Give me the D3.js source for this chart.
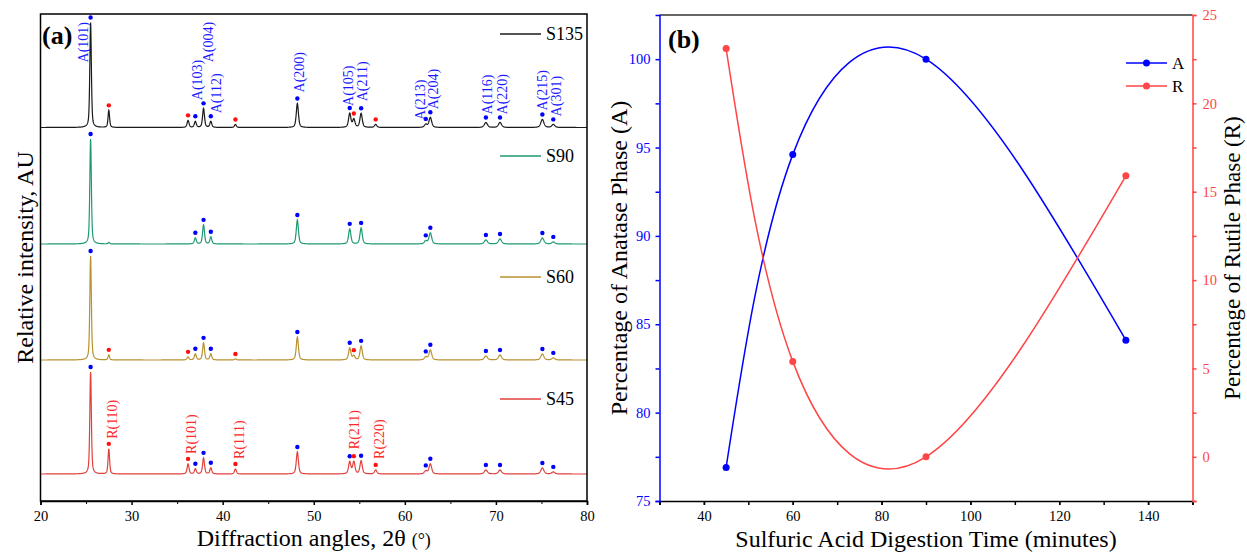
<!DOCTYPE html>
<html>
<head>
<meta charset="utf-8">
<script src="https://cdn.jsdelivr.net/npm/d3@7"></script>
<style>
  body { margin: 0; background: #fff; }
  text { font-family: "Liberation Serif", "Times New Roman", serif; }
</style>
</head>
<body>
<svg id="chart" width="1247" height="555"></svg>
<script>
// ---- data, panel (a): XRD peak list ----
const samples = ['S45', 'S60', 'S90', 'S135']
const baselines = [27, 141, 257, 373.5] // stacking offset, a.u.

const anatasePeaks = [25.5, 37.0, 37.9, 38.7, 48.2, 53.95, 55.2, 62.3, 62.8, 68.9, 70.45, 75.1, 76.3]
const anataseLabels = ['A(101)', 'A(103)', 'A(004)', 'A(112)', 'A(200)', 'A(105)', 'A(211)',
  'A(213)', 'A(204)', 'A(116)', 'A(220)', 'A(215)', 'A(301)']
const anataseWidths = [0.2, 0.25, 0.25, 0.25, 0.28, 0.3, 0.3, 0.35, 0.35, 0.4, 0.4, 0.4, 0.4]
const anataseHeights = [
  [102, 5, 16, 6, 22, 12, 13, 3, 10, 4, 4, 6, 2], // S45
  [104, 6, 17, 6, 23, 12, 14, 3, 10, 4, 5, 6, 2], // S60
  [105, 6, 19, 7, 24, 15, 16, 3, 11, 4, 5, 6, 2], // S90
  [105, 6, 19, 6, 24, 14, 14, 3, 10, 5, 5, 8, 3]  // S135
]

const rutilePeaks = [27.5, 36.2, 41.4, 54.4, 56.8]
const rutileLabels = ['R(110)', 'R(101)', 'R(111)', 'R(211)', 'R(220)']
const rutileWidths = [0.2, 0.25, 0.25, 0.3, 0.3]
const rutileHeights = [
  [25, 10, 5, 12, 4],
  [5, 3, 1, 4, 0],
  [1.5, 0, 0, 0, 0],
  [17, 7, 3, 8, 3]
]
const rutileMarked = [
  [1, 1, 1, 1, 1],
  [1, 1, 1, 1, 0],
  [0, 0, 0, 0, 0],
  [1, 1, 1, 1, 1]
]

// ---- data, panel (b) ----
const digestTime = [45, 60, 90, 135]
const anatasePct = [76.9, 94.6, 100.0, 84.1]
const rutilePct = [23.1, 5.4, 0.0, 15.9]

// ---- styles ----
const sampleColors = ['#e0403c', '#b8912f', '#1f9a6f', '#1a1a1a']
const blue = '#0000ff'
const red = '#ff4545'

const svg = d3.select('#chart')

// ================= panel (a) =================
const pa = { left: 40.5, right: 587, top: 14, bottom: 501 }
const xA = d3.scaleLinear().domain([20, 80]).range([pa.left, pa.right])
const yA = d3.scaleLinear().domain([0, 487]).range([pa.bottom, pa.top])

function profile(x, p, w) {
  const t = (x - p) / w
  return 0.5 / (1 + 4 * t * t) + 0.5 * Math.exp(-4 * Math.LN2 * t * t)
}

function intensity(i, x) {
  let s = baselines[i]
  anatasePeaks.forEach((p, k) => { s += anataseHeights[i][k] * profile(x, p, anataseWidths[k]) })
  rutilePeaks.forEach((p, k) => { s += rutileHeights[i][k] * profile(x, p, rutileWidths[k]) })
  return s
}

const grid = d3.range(20, 80.0001, 0.02)
const trace = d3.line()
  .x(d => xA(d[0]))
  .y(d => yA(d[1]))

samples.forEach((name, i) => {
  svg.append('path')
    .datum(grid.map(x => [x, intensity(i, x)]))
    .attr('d', trace)
    .attr('fill', 'none')
    .attr('stroke', sampleColors[i])
    .attr('stroke-width', 1.2)

  // peak markers
  anatasePeaks.forEach(p => {
    svg.append('circle')
      .attr('cx', xA(p))
      .attr('cy', yA(intensity(i, p)) - 5)
      .attr('r', 2.2)
      .attr('fill', blue)
  })
  rutilePeaks.forEach((p, k) => {
    if (!rutileMarked[i][k]) return
    svg.append('circle')
      .attr('cx', xA(p))
      .attr('cy', yA(intensity(i, p)) - 5)
      .attr('r', 2.2)
      .attr('fill', '#ff1010')
  })
})

// hkl labels: anatase on S135, rutile on S45  ([dx, gap])
const aNudge = [[-8, -45], [2, 16], [5, 41], [5, 3], [2, 6], [-2, 2], [1, 7], [-6, -1], [3, 3], [1, 3], [2, 3], [0, 4], [3, 3]]
const rNudge = [[3, 5], [3, 5], [4, 5], [0, 7], [3, 6]]

function hklLabel(text, p, sampleIdx, nudge, color) {
  const cx = xA(p) + nudge[0]
  const bottom = yA(intensity(sampleIdx, p)) - 5 - nudge[1]
  svg.append('text')
    .attr('transform', 'translate(' + cx + ',' + bottom + ') rotate(-90)')
    .attr('dy', '0.35em')
    .attr('font-size', 14)
    .attr('fill', color)
    .text(text)
}
anatasePeaks.forEach((p, k) => hklLabel(anataseLabels[k], p, 3, aNudge[k], '#1a1aff'))
rutilePeaks.forEach((p, k) => hklLabel(rutileLabels[k], p, 0, rNudge[k], '#ff2a2a'))

// frame + x axis
svg.append('rect')
  .attr('x', pa.left).attr('y', pa.top)
  .attr('width', pa.right - pa.left).attr('height', pa.bottom - pa.top)
  .attr('fill', 'none').attr('stroke', '#000').attr('stroke-width', 1.5)

const axA = svg.append('g')
  .attr('transform', 'translate(0,' + pa.bottom + ')')
  .call(d3.axisBottom(xA).tickValues(d3.range(20, 81, 10)).tickSize(4).tickPadding(6))
svg.append('g')
  .attr('transform', 'translate(0,' + pa.bottom + ')')
  .call(d3.axisBottom(xA).tickValues(d3.range(25, 80, 10)).tickSize(3).tickFormat(''))
  .call(g => g.select('.domain').remove())

svg.append('text')
  .attr('x', 42).attr('y', 44)
  .attr('font-size', 26).attr('font-weight', 'bold')
  .text('(a)')

const xtA = svg.append('text')
  .attr('x', (pa.left + pa.right) / 2).attr('y', 546)
  .attr('text-anchor', 'middle').attr('font-size', 24)
xtA.append('tspan').text('Diffraction angles, 2θ ')
xtA.append('tspan').attr('font-size', 18).text('(°)')

svg.append('text')
  .attr('transform', 'translate(33,' + (pa.top + pa.bottom) / 2 + ') rotate(-90)')
  .attr('text-anchor', 'middle').attr('font-size', 24)
  .text('Relative intensity, AU')

// legend (a)
const legendY = [399, 277, 156, 34]
samples.forEach((name, i) => {
  svg.append('line')
    .attr('x1', 500).attr('x2', 541)
    .attr('y1', legendY[i]).attr('y2', legendY[i])
    .attr('stroke', sampleColors[i]).attr('stroke-width', 1.5)
  svg.append('text')
    .attr('x', 546).attr('y', legendY[i] + 6)
    .attr('font-size', 18)
    .text(name)
})

// ================= panel (b) =================
const pb = { left: 659.5, right: 1192.5, top: 15, bottom: 501 }
const xB = d3.scaleLinear().domain([30, 150]).range([pb.left, pb.right])
const yL = d3.scaleLinear().domain([75, 102.5]).range([pb.bottom, pb.top])
const yR = d3.scaleLinear().domain([-2.5, 25]).range([pb.bottom, pb.top])

svg.append('line')
  .attr('x1', pb.left).attr('x2', pb.right)
  .attr('y1', pb.top).attr('y2', pb.top)
  .attr('stroke', '#333').attr('stroke-width', 1.5)

function styleAxis(g, color) {
  g.selectAll('path, line').attr('stroke', color).attr('stroke-width', 1.5)
  g.selectAll('text').attr('fill', color).attr('font-size', 14.5)
    .attr('font-family', '"Liberation Serif", "Times New Roman", serif')
}

svg.append('g')
  .attr('transform', 'translate(0,' + pb.bottom + ')')
  .call(d3.axisBottom(xB).tickValues(d3.range(40, 141, 20)).tickSize(4).tickPadding(6))
  .call(g => styleAxis(g, '#000'))
svg.append('g')
  .attr('transform', 'translate(0,' + pb.bottom + ')')
  .call(d3.axisBottom(xB).tickValues(d3.range(30, 151, 10)).tickSize(4).tickFormat(''))
  .call(g => g.select('.domain').remove())
  .call(g => styleAxis(g, '#000'))

svg.append('g')
  .attr('transform', 'translate(' + pb.left + ',0)')
  .call(d3.axisLeft(yL).tickValues(d3.range(75, 101, 5)).tickSize(4).tickPadding(5))
  .call(g => styleAxis(g, blue))
svg.append('g')
  .attr('transform', 'translate(' + pb.left + ',0)')
  .call(d3.axisLeft(yL).tickValues(d3.range(77.5, 101, 5)).tickSize(4).tickFormat(''))
  .call(g => g.select('.domain').remove())
  .call(g => styleAxis(g, blue))

svg.append('g')
  .attr('transform', 'translate(' + pb.right + ',0)')
  .call(d3.axisRight(yR).tickValues(d3.range(0, 26, 5)).tickSize(4).tickPadding(6))
  .call(g => styleAxis(g, red))
svg.append('g')
  .attr('transform', 'translate(' + pb.right + ',0)')
  .call(d3.axisRight(yR).tickValues(d3.range(-2.5, 23, 5)).tickSize(4).tickFormat(''))
  .call(g => g.select('.domain').remove())
  .call(g => styleAxis(g, red))

// style tick labels of panel (a) axis too
styleAxis(axA, '#000')

const rows = digestTime.map((t, i) => ({ t, a: anatasePct[i], r: rutilePct[i] }))

svg.append('path')
  .datum(rows)
  .attr('d', d3.line().curve(d3.curveNatural).x(d => xB(d.t)).y(d => yL(d.a)))
  .attr('fill', 'none').attr('stroke', blue).attr('stroke-width', 1.5)
svg.append('path')
  .datum(rows)
  .attr('d', d3.line().curve(d3.curveNatural).x(d => xB(d.t)).y(d => yR(d.r)))
  .attr('fill', 'none').attr('stroke', red).attr('stroke-width', 1.5)

svg.selectAll('.ptA')
  .data(rows).enter().append('circle')
  .attr('class', 'ptA')
  .attr('cx', d => xB(d.t)).attr('cy', d => yL(d.a))
  .attr('r', 3.5).attr('fill', blue)
svg.selectAll('.ptR')
  .data(rows).enter().append('circle')
  .attr('class', 'ptR')
  .attr('cx', d => xB(d.t)).attr('cy', d => yR(d.r))
  .attr('r', 3.5).attr('fill', red)

svg.append('text')
  .attr('x', 668).attr('y', 48)
  .attr('font-size', 26).attr('font-weight', 'bold')
  .text('(b)')

svg.append('text')
  .attr('x', (pb.left + pb.right) / 2).attr('y', 547)
  .attr('text-anchor', 'middle').attr('font-size', 24)
  .text('Sulfuric Acid Digestion Time (minutes)')

svg.append('text')
  .attr('transform', 'translate(627,' + (pb.top + pb.bottom) / 2 + ') rotate(-90)')
  .attr('text-anchor', 'middle').attr('font-size', 24)
  .text('Percentage of Anatase Phase (A)')

svg.append('text')
  .attr('transform', 'translate(1240,' + (pb.top + pb.bottom) / 2 + ') rotate(-90)')
  .attr('text-anchor', 'middle').attr('font-size', 23)
  .text('Percentage of Rutile Phase (R)')

// legend (b)
const legendB = [{ name: 'A', color: blue, y: 63 }, { name: 'R', color: red, y: 86 }]
legendB.forEach(l => {
  svg.append('line')
    .attr('x1', 1126).attr('x2', 1167)
    .attr('y1', l.y).attr('y2', l.y)
    .attr('stroke', l.color).attr('stroke-width', 1.5)
  svg.append('circle')
    .attr('cx', 1146.5).attr('cy', l.y).attr('r', 3.5).attr('fill', l.color)
  svg.append('text')
    .attr('x', 1172).attr('y', l.y + 6)
    .attr('font-size', 17)
    .text(l.name)
})
</script>
</body>
</html>
